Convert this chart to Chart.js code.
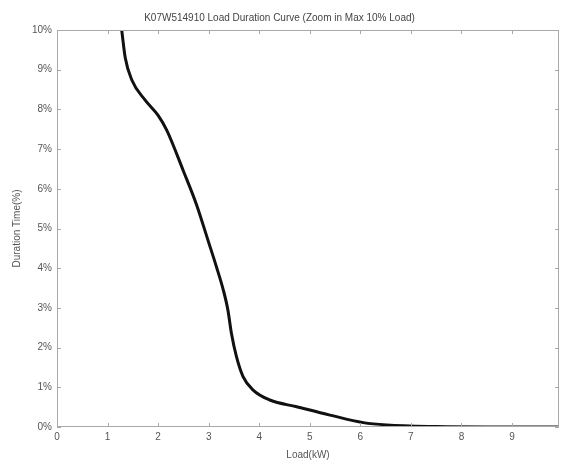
<!DOCTYPE html>
<html><head><meta charset="utf-8">
<script src="https://cdn.jsdelivr.net/npm/chart.js@4"></script>
<style>html,body{margin:0;padding:0;background:#fff}#wrap{width:566px;height:461px}</style>
</head><body><div id="wrap"><canvas id="c" width="566" height="461"></canvas></div>
<script>
const loads = [1.22, 1.28, 1.35, 1.48, 1.74, 2.0, 2.17, 2.5, 2.76, 3.0, 3.15, 3.29, 3.38, 3.45, 3.55, 3.68, 3.88, 4.21, 4.74, 5.40, 6.06, 6.52, 7.5, 8.5, 9.93];
const durations = [10.6, 10.0, 9.3, 8.74, 8.24, 7.85, 7.48, 6.45, 5.6, 4.65, 4.05, 3.45, 2.95, 2.36, 1.77, 1.27, 0.93, 0.68, 0.51, 0.30, 0.11, 0.05, 0.01, 0.0, 0.0];
const xTicks = [0,1,2,3,4,5,6,7,8,9];
const yTicks = [0,1,2,3,4,5,6,7,8,9,10];
const titleText = 'K07W514910 Load Duration Curve (Zoom in Max 10% Load)';
const xTitle = 'Load(kW)';
const yTitle = 'Duration Time(%)';

const pts = loads.map((x,i)=>({x, y: durations[i]}));
const axisColor = '#a8a8a8';
const textColor = '#555';
const fontFam = '"Liberation Sans", Arial, sans-serif';

const boxPlugin = {
  id: 'box',
  afterDraw(chart){
    const {ctx, chartArea:a, scales} = chart;
    ctx.save();
    ctx.strokeStyle = axisColor;
    ctx.lineWidth = 1;
    ctx.strokeRect(a.left+0.5, a.top+0.5, a.right-a.left-1, a.bottom-a.top-1);
    const L = 4;
    ctx.beginPath();
    xTicks.forEach(v=>{
      const px = Math.round(scales.x.getPixelForValue(v))+0.5;
      ctx.moveTo(px, a.bottom); ctx.lineTo(px, a.bottom-L);
      ctx.moveTo(px, a.top); ctx.lineTo(px, a.top+L);
    });
    yTicks.forEach(v=>{
      const py = Math.round(scales.y.getPixelForValue(v))+0.5;
      ctx.moveTo(a.left, py); ctx.lineTo(a.left+L, py);
      ctx.moveTo(a.right, py); ctx.lineTo(a.right-L, py);
    });
    ctx.stroke();
    ctx.restore();
  }
};

new Chart(document.getElementById('c'), {
  type: 'scatter',
  data: { datasets: [{
    data: pts, showLine: true, borderColor: '#111', borderWidth: 3,
    pointRadius: 0, cubicInterpolationMode: 'monotone', fill: false
  }]},
  options: {
    responsive: false, animation: false,
    layout: { padding: { left: 0, right: 7, top: 0, bottom: 0 } },
    plugins: {
      legend: { display: false }, tooltip: { enabled: false },
      title: { display: true, text: titleText, color: '#444',
        font: { family: fontFam, size: 10, weight: 'normal' },
        padding: { top: 12, bottom: 6 } }
    },
    scales: {
      x: { type: 'linear', min: 0, max: 9.93,
        afterBuildTicks: s => { s.ticks = xTicks.map(v=>({value:v})); },
        afterFit: s => { s.height = 34; },
        grid: { display: false, drawTicks: false }, border: { display: false },
        ticks: { color: textColor, font: { family: fontFam, size: 10 }, padding: 4, maxRotation: 0 },
        title: { display: true, text: xTitle, color: textColor, font: { family: fontFam, size: 10 }, padding: { top: 0, bottom: 0 } }
      },
      y: { type: 'linear', min: 0, max: 10,
        afterBuildTicks: s => { s.ticks = yTicks.map(v=>({value:v})); },
        afterFit: s => { s.width = 57; },
        grid: { display: false, drawTicks: false }, border: { display: false },
        ticks: { color: textColor, font: { family: fontFam, size: 10 }, padding: 5, callback: v => v + '%' },
        title: { display: true, text: yTitle, color: textColor, font: { family: fontFam, size: 10 }, padding: { top: 11, bottom: 0 } }
      }
    }
  },
  plugins: [boxPlugin]
});
</script></body></html>
